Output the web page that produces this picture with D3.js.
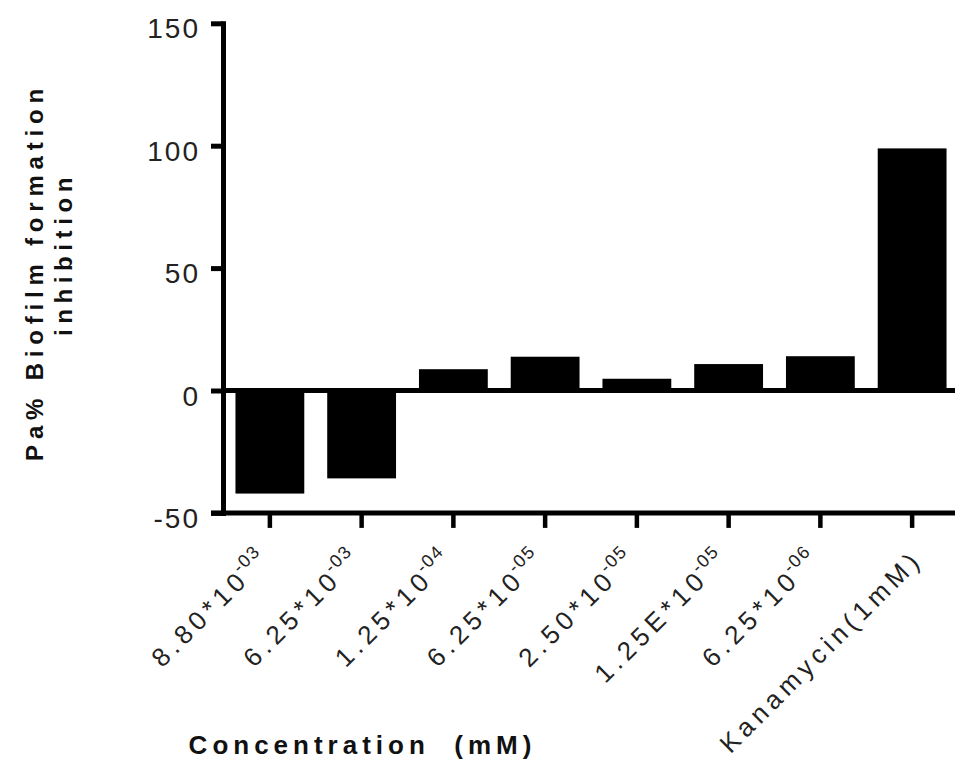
<!DOCTYPE html>
<html>
<head>
<meta charset="utf-8">
<script src="https://cdnjs.cloudflare.com/ajax/libs/d3/7.8.5/d3.min.js"></script>
<style>
  body { margin: 0; background: #fff; }
  svg { font-family: "Liberation Sans", Arial, sans-serif; }
</style>
</head>
<body>
<svg id="bar"></svg>
<script>
// concentration labels: base text + superscript exponent
let labelBase = ["8.80*10", "6.25*10", "1.25*10", "6.25*10", "2.50*10", "1.25E*10", "6.25*10", "Kanamycin(1mM)"];
let labelSup  = ["-03", "-03", "-04", "-05", "-05", "-05", "-06", ""];
let inhibition = [-42.1, -35.9, 8.7, 13.8, 4.8, 10.8, 14.0, 98.9];
let yTicks = [-50, 0, 50, 100, 150];

let categories = labelBase.map((b, i) => b + "^" + labelSup[i]);

const width = 955;
const height = 765;

let svg = d3.select("svg#bar")
  .attr("width", width)
  .attr("height", height);

let yScale = d3.scaleLinear()
  .domain([-50, 150])
  .range([512.9, 23.3]);

let xScale = d3.scaleBand()
  .domain(categories)
  .range([224, 958])
  .paddingInner(0.25)
  .paddingOuter(0.125);

let axisX0 = 223;

// bars
svg.append("g").attr("id", "bars")
  .selectAll("rect")
  .data(categories.map((c, i) => [c, inhibition[i]]))
  .enter().append("rect")
  .attr("x", d => xScale(d[0]))
  .attr("width", xScale.bandwidth())
  .attr("y", d => yScale(Math.max(0, d[1])))
  .attr("height", d => Math.abs(yScale(d[1]) - yScale(0)))
  .attr("fill", "#000");

// zero line
svg.append("line")
  .attr("x1", axisX0).attr("x2", width)
  .attr("y1", yScale(0)).attr("y2", yScale(0))
  .attr("stroke", "#000")
  .attr("stroke-width", 5);

// y axis
let yAxis = d3.axisLeft(yScale)
  .tickValues(yTicks)
  .tickSize(12)
  .tickSizeOuter(0)
  .tickFormat(d => String(d));

let yGroup = svg.append("g")
  .attr("id", "y-axis")
  .attr("transform", "translate(" + axisX0 + ",0)")
  .call(yAxis);

yGroup.select(".domain")
  .attr("stroke-width", 5)
  .attr("stroke-linecap", "square");
yGroup.selectAll(".tick line").attr("stroke-width", 5);
yGroup.selectAll(".tick text")
  .attr("font-size", 28)
  .attr("letter-spacing", 2)
  .attr("fill", "#222")
  .attr("dy", null)
  .attr("y", 14.5)
  .attr("x", -23);

// x axis
let xAxis = d3.axisBottom(xScale)
  .tickSize(15)
  .tickSizeOuter(0)
  .tickFormat("");

let xGroup = svg.append("g")
  .attr("id", "x-axis")
  .attr("transform", "translate(0," + yScale(-50) + ")")
  .call(xAxis);

xGroup.select(".domain").remove();
xGroup.append("line")
  .attr("x1", 211).attr("x2", width)
  .attr("y1", 0).attr("y2", 0)
  .attr("stroke", "#000")
  .attr("stroke-width", 5);
xGroup.selectAll(".tick line").attr("stroke-width", 4.5);

xGroup.selectAll(".tick").each(function(d, i) {
  let hasSup = labelSup[i] !== "";
  let ax = hasSup ? 0 : 12;
  let t = d3.select(this).append("text")
    .attr("transform", "translate(" + ax + ",48) rotate(-45)")
    .attr("text-anchor", "end")
    .attr("fill", "#222")
    .attr("font-size", 26)
    .attr("letter-spacing", 5);
  t.append("tspan").text(labelBase[i]);
  if (hasSup) {
    t.append("tspan")
      .attr("font-size", 18)
      .attr("letter-spacing", 1.5)
      .attr("dx", -3)
      .attr("dy", -12)
      .text(labelSup[i]);
  }
});

// axis titles
let titleStyle = function(sel) {
  sel.attr("text-anchor", "middle")
    .attr("font-weight", "bold")
    .attr("fill", "#111");
};

svg.append("text")
  .attr("transform", "translate(43,272) rotate(-90)")
  .call(titleStyle)
  .attr("font-size", 24)
  .attr("letter-spacing", 5.8)
  .text("Pa% Biofilm formation");

svg.append("text")
  .attr("transform", "translate(72,254) rotate(-90)")
  .call(titleStyle)
  .attr("font-size", 24)
  .attr("letter-spacing", 5.6)
  .text("inhibition");

svg.append("text")
  .attr("x", 362.5)
  .attr("y", 754)
  .call(titleStyle)
  .attr("font-size", 26)
  .attr("letter-spacing", 5)
  .attr("xml:space", "preserve")
  .text("Concentration  (mM)");
</script>
</body>
</html>
